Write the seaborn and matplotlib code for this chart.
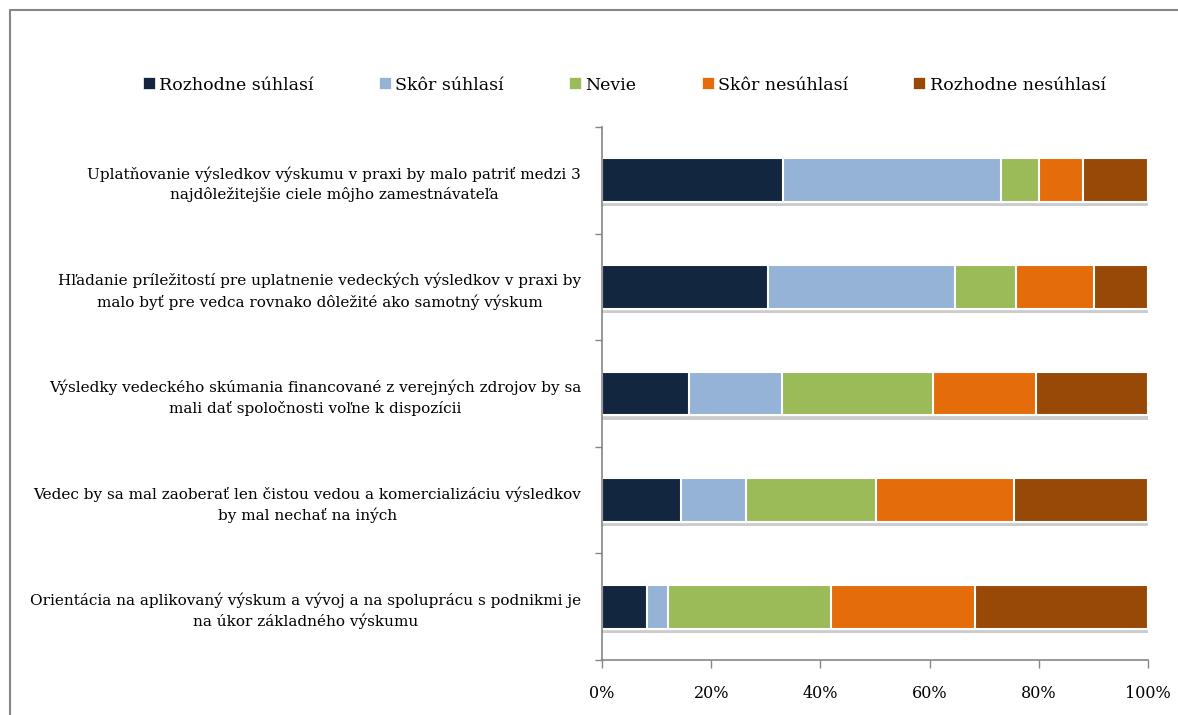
import numpy as np
import pandas as pd
import matplotlib
matplotlib.use("Agg")
import matplotlib.pyplot as plt
import matplotlib.patheffects as pe
from matplotlib.ticker import FixedLocator, PercentFormatter
from matplotlib.lines import Line2D
import seaborn as sns

categories = [
    "Uplatňovanie výsledkov výskumu v praxi by malo patriť medzi 3\nnajdôležitejšie ciele môjho zamestnávateľa",
    "Hľadanie príležitostí pre uplatnenie vedeckých výsledkov v praxi by\nmalo byť pre vedca rovnako dôležité ako samotný výskum",
    "Výsledky vedeckého skúmania financované z verejných zdrojov by sa\nmali dať spoločnosti voľne k dispozícii",
    "Vedec by sa mal zaoberať len čistou vedou a komercializáciu výsledkov\nby mal nechať na iných",
    "Orientácia na aplikovaný výskum a vývoj a na spoluprácu s podnikmi je\nna úkor základného výskumu",
]
series_names = ["Rozhodne súhlasí", "Skôr súhlasí", "Nevie", "Skôr nesúhlasí", "Rozhodne nesúhlasí"]
rozhodne_suhlasi = [33.2, 30.4, 16.0, 14.4, 8.3]
skor_suhlasi = [39.9, 34.2, 17.0, 12.0, 3.8]
nevie = [7.0, 11.3, 27.7, 23.7, 29.8]
skor_nesuhlasi = [8.0, 14.3, 18.7, 25.3, 26.5]
rozhodne_nesuhlasi = [11.9, 9.8, 20.6, 24.6, 31.6]
colors = ["#12263F", "#95B3D7", "#9BBB59", "#E46C0A", "#984807"]
xtick_values = [0, 20, 40, 60, 80, 100]

values = np.array([rozhodne_suhlasi, skor_suhlasi, nevie, skor_nesuhlasi, rozhodne_nesuhlasi])
totals = values.sum(axis=0)
values = values / totals * 100
cum = np.cumsum(values, axis=0)

sns.set_theme(style="white")
plt.rcParams["font.family"] = ["DejaVu Serif", "Liberation Serif"]

fig = plt.figure(figsize=(11.78, 7.15), dpi=100)
fig.patch.set_facecolor("white")
ax = fig.add_axes([602 / 1178, 55 / 715, 546 / 1178, 533 / 715])

for i in range(4, -1, -1):
    df = pd.DataFrame({"cat": categories, "val": cum[i]})
    sns.barplot(data=df, x="val", y="cat", orient="h", color=colors[i],
                saturation=1, width=0.41, edgecolor="white", linewidth=1.5, ax=ax)

# shadow under full bars (first drawn layer)
for p in ax.patches[:5]:
    p.set_path_effects([pe.SimplePatchShadow(offset=(0, -3), shadow_rgbFace="#808080", alpha=0.4),
                        pe.Normal()])

ax.set_xlim(0, 100)
ax.set_ylim(4.5, -0.5)
ax.set_xlabel("")
ax.set_ylabel("")
ax.xaxis.set_major_locator(FixedLocator(xtick_values))
ax.xaxis.set_major_formatter(PercentFormatter(decimals=0))
ax.yaxis.set_minor_locator(FixedLocator(np.arange(-0.5, 5.0, 1.0)))
ax.tick_params(axis="y", which="major", length=0, pad=15, labelsize=11, labelcolor="black")
ax.tick_params(axis="y", which="minor", length=5, color="#868686", width=1, left=True)
ax.tick_params(axis="x", which="major", length=6, color="#868686", width=1, bottom=True,
               direction="out", pad=12, labelsize=11.5, labelcolor="black")
for lab in ax.get_yticklabels():
    lab.set_multialignment("center")
    lab.set_ha("right")
    lab.set_linespacing(1.45)

for s in ["top", "right"]:
    ax.spines[s].set_visible(False)
for s in ["left", "bottom"]:
    ax.spines[s].set_color("#868686")
    ax.spines[s].set_linewidth(1.2)

handles = [Line2D([], [], marker="s", linestyle="none", markersize=8,
                  markerfacecolor=c, markeredgecolor="white", markeredgewidth=0.5) for c in colors]
fig.legend(handles, series_names, loc="center", bbox_to_anchor=(623 / 1178, 1 - 85 / 715),
           ncol=5, frameon=False, fontsize=12.5, handletextpad=0.1, columnspacing=3.6,
           handlelength=1.0, labelcolor="black")

# outer frame
fig.add_artist(Line2D([10 / 1178, 10 / 1178], [0, 1 - 10 / 715], transform=fig.transFigure,
                      color="#868686", linewidth=1.5))
fig.add_artist(Line2D([10 / 1178, 1], [1 - 10 / 715, 1 - 10 / 715], transform=fig.transFigure,
                      color="#868686", linewidth=1.5))

fig.savefig("out.png", dpi=100, facecolor="white")
